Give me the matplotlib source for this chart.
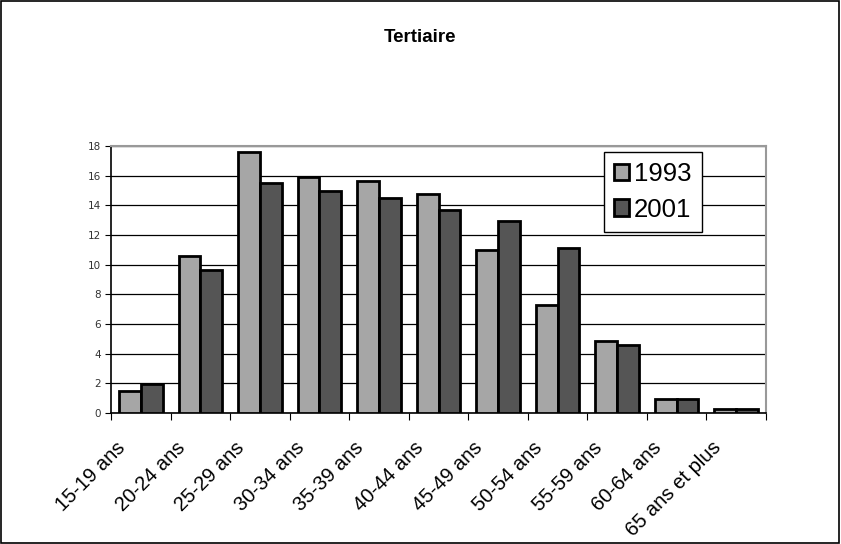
import numpy as np
import matplotlib
matplotlib.use("Agg")
import matplotlib.pyplot as plt
from matplotlib.patches import Rectangle

categories = ["15-19 ans", "20-24 ans", "25-29 ans", "30-34 ans", "35-39 ans",
              "40-44 ans", "45-49 ans", "50-54 ans", "55-59 ans", "60-64 ans",
              "65 ans et plus"]
v1993 = [1.5, 10.57, 17.57, 15.89, 15.62, 14.74, 10.97, 7.29, 4.85, 0.96, 0.27]
v2001 = [1.95, 9.63, 15.49, 14.95, 14.47, 13.67, 12.95, 11.11, 4.58, 0.96, 0.27]

plt.rcParams['font.family'] = ['Liberation Sans', 'DejaVu Sans']

fig = plt.figure(figsize=(8.41, 5.44), dpi=100)
ax = fig.add_axes([111 / 841, 1 - 413 / 544, 655 / 841, 267 / 544])

x = np.arange(len(categories))
w = 0.365
ax.bar(x - w / 2, v1993, w, color="#a6a6a6", edgecolor="black", linewidth=2.0, label="1993", zorder=3)
ax.bar(x + w / 2, v2001, w, color="#555555", edgecolor="black", linewidth=2.0, label="2001", zorder=3)

ax.set_xlim(-0.5, len(categories) - 0.5)
ax.set_ylim(0, 18)
ax.set_yticks(np.arange(0, 19, 2))
ax.set_yticklabels([str(v) for v in range(0, 19, 2)], family="DejaVu Sans")
ax.tick_params(axis="y", labelsize=7.5, length=4, colors="black", labelcolor="#333333", pad=3)
ax.yaxis.grid(True, color="black", linewidth=0.9, zorder=0)

ax.set_xticks(np.arange(len(categories) + 1) - 0.5)
ax.set_xticklabels([])
ax.tick_params(axis="x", length=5, direction="out")
for i, c in enumerate(categories):
    ax.text(i - 0.42, -1.7, c, rotation=45, ha="right", va="top",
            rotation_mode="anchor", fontsize=14.5)

for s in ["top", "right"]:
    ax.spines[s].set_color("#999999")
    ax.spines[s].set_linewidth(1.5)
for s in ["left", "bottom"]:
    ax.spines[s].set_color("black")
    ax.spines[s].set_linewidth(1.2)

leg = ax.legend(loc="upper left", bbox_to_anchor=(0.753, 0.978), fontsize=18.5,
                frameon=True, fancybox=False, edgecolor="black", framealpha=1,
                handlelength=0.55, handleheight=0.6, handletextpad=0.2,
                borderpad=0.4, labelspacing=0.45, borderaxespad=0)
leg.get_frame().set_linewidth(1.0)
leg.set_zorder(5)

fig.text(0.5, 1 - 38 / 544, "Tertiaire", ha="center", va="center",
         fontsize=13.5, fontweight="bold")

fig.patches.append(Rectangle((0.001, 0.001), 0.997, 0.997, transform=fig.transFigure,
                             fill=False, edgecolor="black", linewidth=1.2))

fig.savefig("out.png", dpi=100)
